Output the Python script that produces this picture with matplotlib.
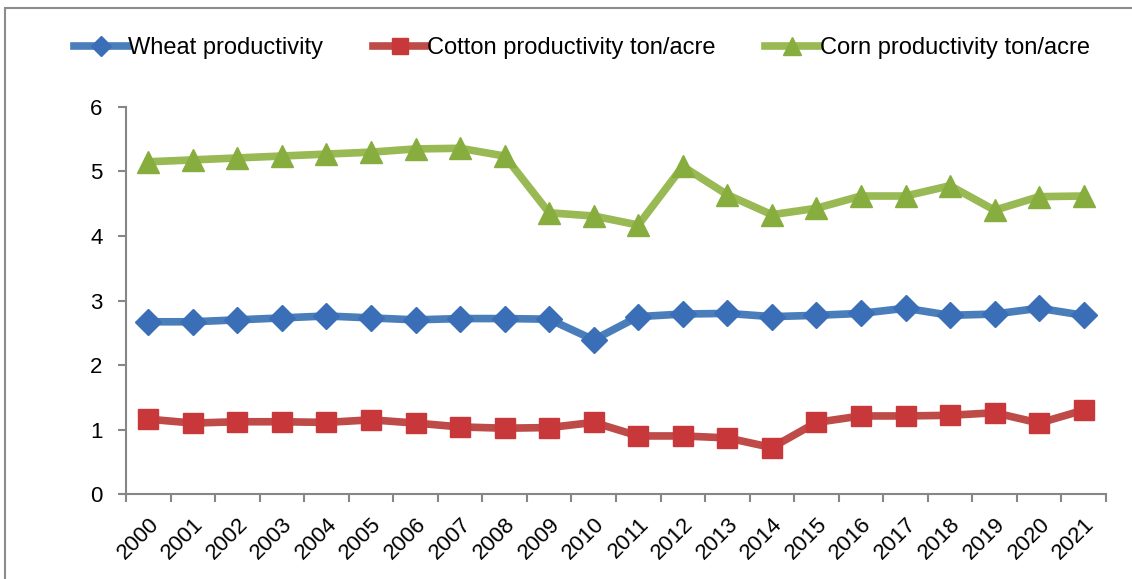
import matplotlib.pyplot as plt
from matplotlib.patches import Rectangle

plt.rcParams.update({"font.family": ["Liberation Sans", "DejaVu Sans"], "font.size": 16})

years = [str(y) for y in range(2000, 2022)]
wheat = [2.67, 2.67, 2.70, 2.73, 2.76, 2.73, 2.70, 2.72, 2.72, 2.71, 2.39,
         2.75, 2.79, 2.80, 2.75, 2.77, 2.80, 2.88, 2.77, 2.79, 2.88, 2.77]
cotton = [1.16, 1.10, 1.12, 1.12, 1.11, 1.15, 1.10, 1.04, 1.02, 1.03, 1.11,
          0.90, 0.90, 0.87, 0.72, 1.11, 1.21, 1.21, 1.22, 1.26, 1.10, 1.30]
corn = [5.15, 5.18, 5.21, 5.24, 5.27, 5.30, 5.35, 5.36, 5.24, 4.36, 4.31,
        4.17, 5.08, 4.64, 4.33, 4.43, 4.62, 4.62, 4.78, 4.40, 4.61, 4.62]

series = [
    ("Wheat productivity", wheat, "D", "#4a7ebb", "#3a6fb8", 13),
    ("Cotton productivity ton/acre", cotton, "s", "#be4b48", "#c8383a", 15),
    ("Corn productivity ton/acre", corn, "^", "#98b954", "#86ad3e", 16),
]

fig = plt.figure(figsize=(11.32, 5.79), dpi=100)
ax = fig.add_axes([0.1113, 0.1468, 0.8657, 0.6684])

x = [i + 0.5 for i in range(len(years))]
handles = []
for label, vals, marker, lc, mc, ms in series:
    (h,) = ax.plot(x, vals, color=lc, lw=5.5, marker=marker, ms=ms,
                   markerfacecolor=mc, markeredgecolor=mc, label=label,
                   solid_joinstyle="miter")
    handles.append(h)

ax.set_xlim(0, len(years))
ax.set_ylim(0, 6)
ax.set_yticks(range(0, 7))
ax.set_xticks(x)
ax.set_xticklabels(years, rotation=45, ha="right", rotation_mode="anchor")
ax.set_xticks(range(len(years) + 1), minor=True)
ax.tick_params(axis="x", which="major", length=0, pad=14)
ax.tick_params(axis="x", which="minor", length=6, color="#868686", width=1.5, direction="out")
ax.tick_params(axis="y", length=6, color="#868686", width=1.5, direction="out", pad=11)

for side in ("top", "right"):
    ax.spines[side].set_visible(False)
for side in ("left", "bottom"):
    ax.spines[side].set_color("#868686")
    ax.spines[side].set_linewidth(1.5)

fig.legend(handles=handles, loc="center", bbox_to_anchor=(0.514, 0.917), ncol=3,
           frameon=False, handlelength=2.3, handletextpad=0.0, columnspacing=2.1,
           fontsize=17, markerscale=0.8)

# outer chart border
fig.add_artist(Rectangle((0.0044, -0.02), 1.0, 1.006, transform=fig.transFigure,
                         fill=False, edgecolor="#8c8c8c", lw=1.5))

fig.savefig("out.png", dpi=100)
